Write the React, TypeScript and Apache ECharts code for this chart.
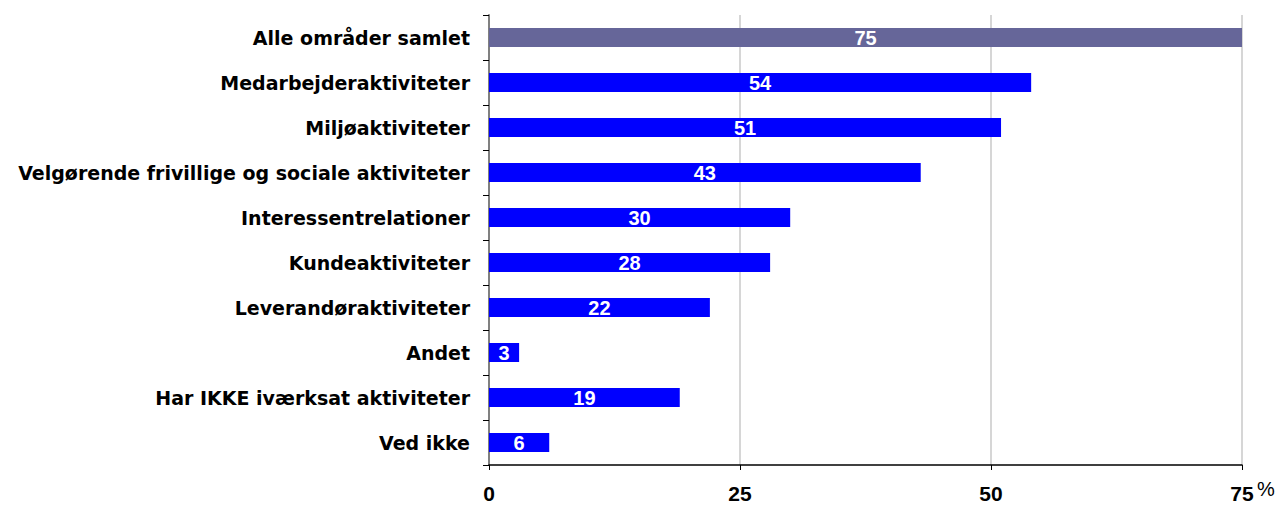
import React, { useEffect, useRef } from "react";
import * as echarts from "echarts";

const categories = [
  "Alle områder samlet",
  "Medarbejderaktiviteter",
  "Miljøaktiviteter",
  "Velgørende frivillige og sociale aktiviteter",
  "Interessentrelationer",
  "Kundeaktiviteter",
  "Leverandøraktiviteter",
  "Andet",
  "Har IKKE iværksat aktiviteter",
  "Ved ikke",
];
const values = [75, 54, 51, 43, 30, 28, 22, 3, 19, 6];
const barColors = ["#666699", "#0000FF", "#0000FF", "#0000FF", "#0000FF", "#0000FF", "#0000FF", "#0000FF", "#0000FF", "#0000FF"];
const xTicks = [0, 25, 50, 75];

export default function App() {
  const ref = useRef<HTMLDivElement>(null);
  useEffect(() => {
    document.body.style.margin = "0";
    const chart = echarts.init(ref.current!, null, { renderer: "svg" });
    const font = "'DejaVu Sans', sans-serif";
    const font2 = "'Liberation Sans', Arial, sans-serif";
    chart.setOption({
      animation: false,
      backgroundColor: "#ffffff",
      grid: { left: 489, top: 15, right: 36, bottom: 42, containLabel: false },
      xAxis: {
        type: "value",
        min: xTicks[0],
        max: xTicks[xTicks.length - 1],
        interval: 25,
        axisLine: { show: true, lineStyle: { color: "#000000", width: 1.5 } },
        axisTick: { show: true, length: 5, lineStyle: { color: "#000000" } },
        splitLine: { show: true, lineStyle: { color: "#c8c8c8", width: 1.5 } },
        axisLabel: {
          margin: 18,
          color: "#000000",
          fontFamily: font2,
          fontWeight: "bold",
          fontSize: 21,
        },
      },
      yAxis: {
        type: "category",
        inverse: true,
        data: categories,
        axisLine: { show: true, lineStyle: { color: "#808080", width: 2 } },
        axisTick: { show: true, length: 6, lineStyle: { color: "#000000" } },
        axisLabel: {
          margin: 19,
          color: "#000000",
          fontFamily: font,
          fontWeight: "bold",
          fontSize: 19,
        },
      },
      series: [
        {
          type: "bar",
          barWidth: 19,
          data: values.map((v, i) => ({ value: v, itemStyle: { color: barColors[i] } })),
          label: {
            show: true,
            position: "inside",
            color: "#ffffff",
            fontFamily: font2,
            fontWeight: "bold",
            fontSize: 20,
          },
        },
      ],
      graphic: [
        {
          type: "text",
          left: 1257,
          top: 479,
          style: { text: "%", fill: "#000000", font: `20px ${font2}` },
        },
      ],
    });
    return () => chart.dispose();
  }, []);
  return <div ref={ref} style={{ width: 1278, height: 507 }} />;
}
